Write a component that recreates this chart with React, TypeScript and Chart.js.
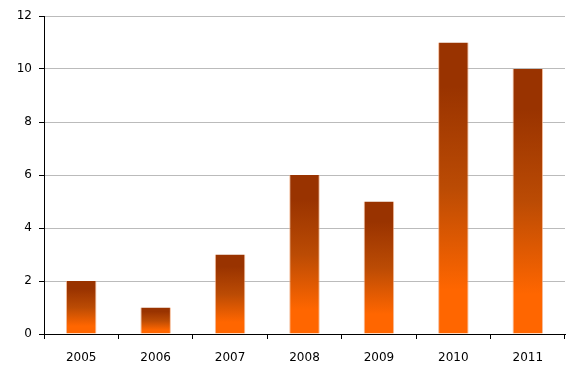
import React, { useEffect, useRef } from "react";
import { Chart, registerables } from "chart.js";

Chart.register(...registerables);

const categories = ["2005", "2006", "2007", "2008", "2009", "2010", "2011"];
const values = [2, 1, 3, 6, 5, 11, 10];
const yTicks = [0, 2, 4, 6, 8, 10, 12];

export default function App() {
  const ref = useRef<HTMLCanvasElement | null>(null);

  useEffect(() => {
    const canvas = ref.current;
    if (!canvas) return;
    const chart = new Chart(canvas, {
      type: "bar",
      data: {
        labels: categories,
        datasets: [
          {
            data: values,
            backgroundColor: (ctx: any) => {
              const c = ctx.chart;
              const ys = c.scales?.y;
              if (!ys || ctx.dataIndex === undefined) return "#ff6600";
              const v = ctx.raw as number;
              const top = ys.getPixelForValue(v);
              const base = ys.getPixelForValue(0);
              if (!isFinite(top) || !isFinite(base) || base === top) return "#ff6600";
              const g = c.ctx.createLinearGradient(0, top, 0, base);
              g.addColorStop(0, "#993300");
              g.addColorStop(0.15, "#993300");
              g.addColorStop(0.5, "#bb4b04");
              g.addColorStop(0.85, "#ff6600");
              g.addColorStop(1, "#ff6600");
              return g;
            },
            borderColor: "rgba(240,165,120,0.75)",
            borderWidth: { left: 1, right: 1, top: 0, bottom: 0 },
            borderSkipped: false,
            barPercentage: 0.41,
            categoryPercentage: 1,
          },
        ],
      },
      options: {
        responsive: false,
        animation: false,
        layout: { padding: { top: 16, right: 10, left: 0, bottom: 0 } },
        plugins: { legend: { display: false }, tooltip: { enabled: false } },
        scales: {
          x: {
            offset: true,
            grid: {
              offset: true,
              drawOnChartArea: false,
              drawTicks: true,
              tickLength: 5,
              tickColor: "#000",
            },
            border: { color: "#000", width: 1 },
            ticks: {
              color: "#000",
              padding: 12,
              font: { family: "DejaVu Sans", size: 12 },
            },
            afterFit: (s: any) => {
              s.height = 41;
            },
          },
          y: {
            min: 0,
            max: 12,
            afterBuildTicks: (s: any) => {
              s.ticks = yTicks.map((v) => ({ value: v }));
            },
            grid: {
              color: "#bbbbbb",
              tickColor: "#000",
              tickLength: 5,
            },
            border: { color: "#000", width: 1 },
            ticks: {
              color: "#000",
              padding: 7,
              font: { family: "DejaVu Sans", size: 12 },
            },
            afterFit: (s: any) => {
              s.width = 44;
            },
          },
        },
      },
    });
    return () => chart.destroy();
  }, []);

  return (
    <div style={{ position: "absolute", left: 0, top: 0, width: 575, height: 375, background: "#fff" }}>
      <canvas ref={ref} width={575} height={375} style={{ display: "block" }} />
    </div>
  );
}
